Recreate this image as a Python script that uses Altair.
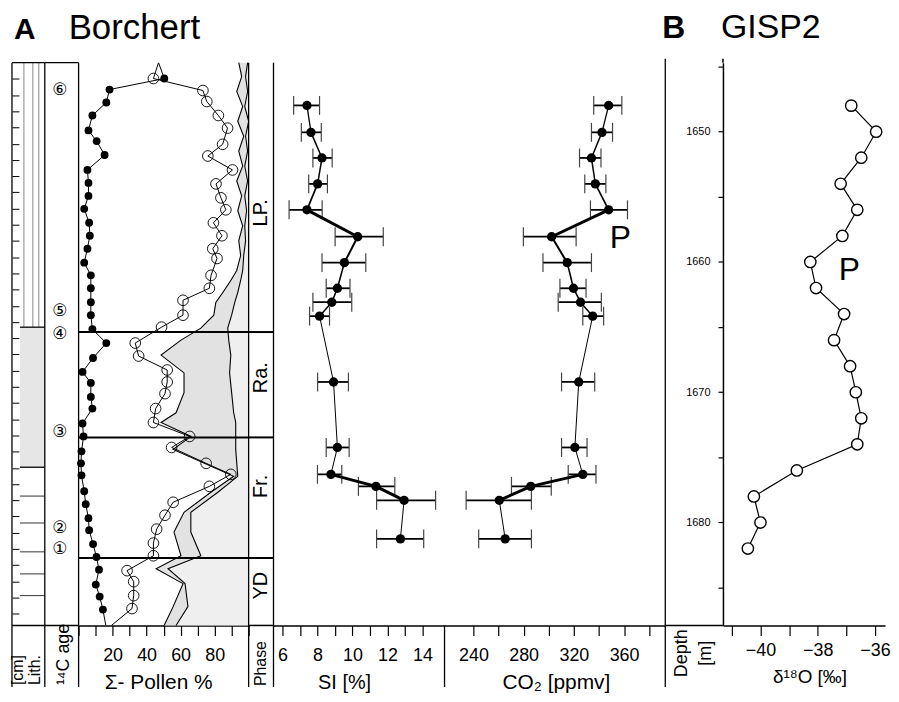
import altair as alt
import pandas as pd

FONT = "Liberation Sans"

# ---------------- Borchert pollen diagram (depth in cm) ----------------
filled_depth = [0.0, 4.9, 8.3, 12.3, 16.3, 20.9, 24.2, 28.5, 33.1, 37.1, 41.1, 45.1, 49.4, 53.4, 57.4,
                61.7, 65.6, 69.6, 73.9, 77.9, 82.2, 86.5, 91.1, 95.4, 98.8, 103.1, 106.7, 111.3, 115.3,
                119.9, 123.6, 127.3, 132.2, 136.2, 140.5, 144.2, 148.5, 152.5, 156.4, 161.0, 164.7, 168.7, 173.6]
filled_val = [47.0, 50.4, 18.2, 16.3, 8.1, 5.8, 10.6, 15.3, 5.2, 5.8, 5.8, 3.3, 6.2, 6.6, 5.2,
              3.3, 7.2, 7.2, 7.2, 7.2, 8.1, 16.3, 8.5, 2.3, 7.2, 7.2, 8.1, 2.3, 2.9,
              1.7, 1.4, 1.7, 3.3, 4.2, 5.8, 6.2, 8.5, 10.5, 12.0, 10.1, 12.4, 14.3, 16.0]
open_depth = [0.0, 4.9, 8.6, 12.0, 16.3, 20.2, 25.2, 28.8, 33.1, 37.4, 41.7, 45.4, 49.4, 53.4, 57.4,
              60.4, 65.6, 69.6, 73.3, 77.9, 81.6, 86.5, 90.5, 94.8, 98.5, 102.1, 106.7, 111.0, 115.3,
              118.7, 123.6, 127.0, 130.7, 135.6, 139.6, 143.9, 148.2, 152.1, 156.7, 160.1, 164.4, 168.4, 173.6]
open_val = [47.0, 44.0, 73.1, 75.4, 82.2, 87.6, 84.7, 76.0, 90.5, 80.8, 83.7, 86.6, 79.3, 84.3, 78.9,
            81.4, 77.9, 76.9, 61.4, 61.4, 48.8, 33.3, 35.3, 52.1, 52.1, 50.8, 45.3, 44.0, 65.3,
            54.7, 75.0, 89.5, 76.9, 55.6, 50.8, 45.9, 44.0, 44.0, 28.5, 32.4, 32.4, 31.4, 19.3]
curve_depth = [0, 4.3, 8.9, 13.5, 18.1, 22.7, 27.3, 31.9, 36.5, 41.1, 45.7, 50.3, 54.9, 59.5, 64.1,
               67.2, 70.9, 74.0, 77.9, 81.9, 85.6, 90.2, 95.7, 101.8, 108.0, 111.0, 115.3, 119.3,
               127.6, 132.5, 138.7, 144.8, 152.1, 156.1, 160.7, 167.8, 173.6]
curve_inner = [94.2, 95.9, 93.0, 96.5, 93.6, 97.1, 94.2, 96.5, 93.0, 95.9, 93.6, 96.5, 94.2, 95.3, 93.0,
               89.5, 84.8, 80.7, 79.5, 71.9, 60.2, 48.5, 62.0, 62.0, 57.3, 48.5, 66.1, 55.6,
               91.2, 77.8, 62.0, 56.1, 60.2, 45.6, 61.4, 55.6, 50.3]
curve_outer = [99.4, 98.2, 99.4, 97.7, 100.0, 98.2, 99.4, 97.7, 99.4, 97.7, 98.8, 97.7, 98.2, 97.1, 96.5,
               95.3, 93.6, 91.8, 90.0, 87.7, 88.3, 89.5, 88.8, 90.0, 91.2, 92.4, 92.4, 92.4,
               93.6, 81.9, 66.0, 66.0, 71.9, 52.6, 62.6, 64.3, 57.3]

phase_bounds = [83.1, 115.6, 152.8]
phase_names = ["LP.", "Ra.", "Fr.", "YD"]
phase_mid = [46.3, 97.2, 130.7, 161.3]
c14_labels = ["⑥", "⑤", "④", "③", "②", "①"]
c14_depth = [8.6, 76.7, 83.6, 113.8, 143.6, 150.0]
lith_top = [0.0, 81.6, 124.8]
lith_bottom = [81.6, 124.8, 173.6]
lith_unit = ["laminated", "hatched", "clay"]
clay_lines = [133.7, 142.0, 150.9, 157.7, 164.4]
ruler_ticks = [5, 10, 15, 20, 25, 30, 35, 40, 45, 50, 55, 60, 65, 70, 75, 80, 85, 90, 95, 100,
               105, 110, 115, 120, 125, 130, 135, 140, 145, 150, 155, 160, 165, 170]

# ---------------- stomatal index and CO2 ----------------
sample_depth = [13.2, 21.5, 29.4, 37.4, 45.4, 53.7, 61.7, 69.6, 73.9, 78.2, 98.5, 118.7, 127.0, 130.7, 135.0, 146.9]
si = [7.40, 7.63, 8.26, 8.01, 7.40, 10.30, 9.54, 9.14, 8.82, 8.12, 8.92, 9.14, 8.77, 11.34, 12.95, 12.74]
si_lo = [6.64, 7.08, 7.74, 7.50, 6.38, 9.01, 8.26, 8.50, 7.74, 7.55, 8.01, 8.50, 8.00, 10.34, 11.38, 11.38]
si_hi = [8.12, 8.22, 8.84, 8.57, 8.27, 11.76, 10.76, 9.86, 9.96, 8.69, 9.77, 9.81, 9.39, 12.42, 14.75, 14.07]
co2 = [347.7, 342.4, 334.0, 337.1, 347.7, 302.3, 314.7, 319.7, 325.3, 335.0, 323.9, 320.8, 327.1, 285.7, 260.6, 265.3]
co2_lo = [335.8, 334.0, 324.5, 328.7, 333.2, 279.8, 295.4, 308.9, 307.5, 327.1, 310.2, 310.2, 315.5, 270.3, 234.2, 244.2]
co2_hi = [358.2, 350.8, 341.6, 345.5, 362.7, 321.8, 334.0, 329.7, 341.9, 343.7, 336.6, 330.5, 337.6, 302.0, 286.2, 286.2]
segment_width = [1.3, 1.5, 1.5, 1.7, 3.0, 2.0, 1.6, 1.6, 1.5, 1.0, 1.0, 1.0, 3.0, 3.0, 1.0]

# ---------------- GISP2 ----------------
gisp_depth = [1648, 1650, 1652, 1654, 1656, 1658, 1660, 1662, 1664, 1666, 1668, 1670, 1672, 1674, 1676, 1678, 1680, 1682]
d18o = [-36.83, -35.96, -36.48, -37.20, -36.62, -37.14, -38.26, -38.06, -37.08, -37.43, -36.87, -36.67,
        -36.48, -36.62, -38.73, -40.23, -40.00, -40.44]
depth_ticks = [1645, 1650, 1655, 1660, 1665, 1670, 1675, 1680, 1685]

# ---------------- layout ----------------
H = 566
BOT = 62
W1, W2, W3, W4, W5, W6, W7, W8 = 33, 34, 171, 25, 172, 222, 58, 163

yA = alt.Scale(domain=[0, 173.6], reverse=True, nice=False, zero=False)
yB = alt.Scale(domain=[1644.7, 1687.9], reverse=True, nice=False, zero=False)
xP = alt.Scale(domain=[0, 100], nice=False, zero=False)
xS = alt.Scale(domain=[5.489, 15.26], nice=False, zero=False)
xC = alt.Scale(domain=[217.0, 392.8], nice=False, zero=False)
xO = alt.Scale(domain=[-41.31, -35.65], nice=False, zero=False)

one = pd.DataFrame({"k": [0]})


def vline(x, y0, y1, w=1.3):
    return alt.Chart(one).mark_rule(color="black", strokeWidth=w).encode(
        x=alt.value(x), y=alt.value(y0), y2=alt.value(y1))


def hline(y, x0, x1, w=1.5):
    return alt.Chart(one).mark_rule(color="black", strokeWidth=w).encode(
        y=alt.value(y), x=alt.value(x0), x2=alt.value(x1))


def label(text, x, y, size, angle=0, align="center", baseline="middle", weight="normal", font=FONT):
    return alt.Chart(one).mark_text(text=text, fontSize=size, font=font, angle=angle, align=align,
                                    baseline=baseline, fontWeight=weight, color="black").encode(
        x=alt.value(x), y=alt.value(y))


# ---- panel 1: lithology ----
lith_axis = alt.Axis(orient="left", offset=-7, values=ruler_ticks, labels=False, domain=False,
                     tickSize=7, tickWidth=1, tickColor="black", grid=False, title=None)
lith = pd.DataFrame({"top": lith_top, "bottom": lith_bottom, "unit": lith_unit})
clay = pd.DataFrame({"d": clay_lines})
bounds_df = pd.DataFrame({"d": lith_top[1:]})

p1 = alt.layer(
    alt.Chart(lith).transform_filter("datum.unit == 'hatched'").mark_rect(color="#e6e6e6").encode(
        y=alt.Y("top:Q", scale=yA, axis=lith_axis), y2="bottom:Q", x=alt.value(8), x2=alt.value(W1)),
    *[alt.Chart(lith).transform_filter("datum.unit == 'laminated'").mark_rule(color="#666", strokeWidth=0.8).encode(
        y=alt.Y("top:Q", scale=yA, axis=lith_axis), y2="bottom:Q", x=alt.value(xx)) for xx in (12, 21, 27)],
    alt.Chart(clay).mark_rule(color="black", strokeWidth=0.8).encode(
        y=alt.Y("d:Q", scale=yA, axis=lith_axis), x=alt.value(8), x2=alt.value(W1)),
    alt.Chart(bounds_df).mark_rule(color="black", strokeWidth=1.3).encode(
        y=alt.Y("d:Q", scale=yA, axis=lith_axis), x=alt.value(8), x2=alt.value(W1)),
    vline(0, 0, H + BOT), vline(W1, 0, H + BOT), hline(0, 0, W1, 1.3), hline(H, 0, W1),
    label("[cm]", 6, H + 60, 16, angle=270, align="left"),
    label("Lith.", 23, H + 60, 16, angle=270, align="left"),
    label("A", 2, -24, 30, align="left", baseline="alphabetic", weight="bold"),
).properties(width=W1, height=H)

# ---- panel 2: 14C ages ----
c14 = pd.DataFrame({"d": c14_depth, "t": c14_labels})
p2 = alt.layer(
    alt.Chart(c14).mark_text(fontSize=17, font="DejaVu Sans", color="black").encode(
        y=alt.Y("d:Q", scale=yA, axis=None), x=alt.value(15), text="t:N"),
    vline(W2, 0, H + BOT), hline(0, 0, W2, 1.3), hline(H, 0, W2),
    label("¹⁴C age", 19, H + 60, 18, angle=270, align="left"),
    label("Borchert", 24, -24, 35, align="left", baseline="alphabetic"),
).properties(width=W2, height=H)

# ---- panel 3: pollen ----
pollen_axis = alt.Axis(values=[0, 10, 20, 30, 40, 50, 60, 70, 80, 90, 100],
                       labelExpr="(datum.value == 20 || datum.value == 40 || datum.value == 60 || datum.value == 80) ? datum.label : ''",
                       title="Σ- Pollen %", titleX=80, titleFontSize=21)
curves = pd.DataFrame({"d": curve_depth, "c1": curve_inner, "c2": curve_outer,
                       "edge": [100.0] * len(curve_depth)})
filled = pd.DataFrame({"d": filled_depth, "v": filled_val})
opened = pd.DataFrame({"d": open_depth, "v": open_val})
phase_df = pd.DataFrame({"d": phase_bounds})
yAn = alt.Y("d:Q", scale=yA, axis=None)

p3 = alt.layer(
    alt.Chart(curves).mark_area(orient="horizontal", color="#e2e2e2").encode(
        y=yAn, x=alt.X("c1:Q", scale=xP, axis=pollen_axis), x2="c2:Q"),
    alt.Chart(curves).mark_area(orient="horizontal", color="#efefef").encode(
        y=yAn, x=alt.X("c2:Q", scale=xP, axis=pollen_axis), x2="edge:Q"),
    alt.Chart(curves).mark_line(color="black", strokeWidth=1.1).encode(
        y=yAn, x=alt.X("c1:Q", scale=xP, axis=pollen_axis), order="d:Q"),
    alt.Chart(curves).mark_line(color="black", strokeWidth=1.1).encode(
        y=yAn, x=alt.X("c2:Q", scale=xP, axis=pollen_axis), order="d:Q"),
    alt.Chart(filled).mark_line(color="black", strokeWidth=1, clip=True).encode(
        y=yAn, x=alt.X("v:Q", scale=xP, axis=pollen_axis), order="d:Q"),
    alt.Chart(opened).mark_line(color="black", strokeWidth=1, clip=True).encode(
        y=yAn, x=alt.X("v:Q", scale=xP, axis=pollen_axis), order="d:Q"),
    alt.Chart(filled.iloc[1:-1]).mark_point(filled=True, color="black", size=62, opacity=1).encode(
        y=yAn, x=alt.X("v:Q", scale=xP, axis=pollen_axis)),
    alt.Chart(opened.iloc[1:-1]).mark_point(filled=False, color="black", size=115, strokeWidth=0.9, opacity=1).encode(
        y=yAn, x=alt.X("v:Q", scale=xP, axis=pollen_axis)),
    alt.Chart(phase_df).mark_rule(color="black", strokeWidth=2).encode(
        y=yAn, x=alt.value(0), x2=alt.value(W3)),
).properties(width=W3, height=H)

# ---- panel 4: phases ----
phases = pd.DataFrame({"d": phase_mid, "t": phase_names})
p4 = alt.layer(
    alt.Chart(phase_df).mark_rule(color="black", strokeWidth=2).encode(
        y=yAn, x=alt.value(0), x2=alt.value(W4)),
    alt.Chart(phases).mark_text(fontSize=20, font=FONT, angle=270, color="black").encode(
        y=yAn, x=alt.value(12), text="t:N"),
    vline(0, 0, H + BOT), vline(W4, 0, H + BOT), hline(H, 0, W4),
    label("Phase", 12, H + 61, 16, angle=270, align="left"),
).properties(width=W4, height=H)

# ---- panels 5/6: SI and CO2 ----
samples = pd.DataFrame({"d": sample_depth, "si": si, "si_lo": si_lo, "si_hi": si_hi,
                        "co2": co2, "co2_lo": co2_lo, "co2_hi": co2_hi})
segs = pd.DataFrame({"d": sample_depth[:-1], "d2": sample_depth[1:],
                     "si": si[:-1], "si2": si[1:], "co2": co2[:-1], "co22": co2[1:],
                     "w": segment_width})

si_axis = alt.Axis(values=[6, 7, 8, 9, 10, 11, 12, 13, 14],
                   labelExpr="datum.value % 2 == 0 ? datum.label : ''", title="SI [%]", titleX=71)
co2_axis = alt.Axis(values=[240, 260, 280, 300, 320, 340, 360, 380],
                    labelExpr="datum.value % 40 == 0 ? datum.label : ''", title="CO₂ [ppmv]", titleX=112,
                    titleFontSize=21)


def proxy_panel(field, scale, axis, width, extra):
    xf = alt.X(f"{field}:Q", scale=scale, axis=axis)
    return alt.layer(
        alt.Chart(samples).mark_rule(color="black", strokeWidth=1.8).encode(
            y=yAn, x=alt.X(f"{field}_lo:Q", scale=scale, axis=axis), x2=f"{field}_hi:Q"),
        alt.Chart(samples).mark_tick(orient="vertical", size=19, thickness=1.2, color="#444", opacity=1).encode(
            y=yAn, x=alt.X(f"{field}_lo:Q", scale=scale, axis=axis)),
        alt.Chart(samples).mark_tick(orient="vertical", size=19, thickness=1.2, color="#444", opacity=1).encode(
            y=yAn, x=alt.X(f"{field}_hi:Q", scale=scale, axis=axis)),
        alt.Chart(segs).mark_rule(color="black").encode(
            y=yAn, y2="d2:Q", x=xf, x2=f"{field}2:Q" if field == "si" else "co22:Q",
            strokeWidth=alt.StrokeWidth("w:Q", scale=None)),
        alt.Chart(samples).mark_point(filled=True, color="black", size=88, opacity=1).encode(y=yAn, x=xf),
        *extra,
    ).properties(width=width, height=H)


p5 = proxy_panel("si", xS, si_axis, W5, [])
ptext = pd.DataFrame({"v": [357.0], "d": [54.1], "t": ["P"]})
p6 = proxy_panel("co2", xC, co2_axis, W6, [
    alt.Chart(ptext).mark_text(fontSize=32, font=FONT, color="black").encode(
        y=yAn, x=alt.X("v:Q", scale=xC, axis=co2_axis), text="t:N"),
    vline(0, H, H + BOT),
])

# ---- panel 7: depth column ----
p7 = alt.layer(
    vline(0, -4, H + BOT), hline(H, 0, W7),
    label("Depth", 17, H + 28, 18, angle=270),
    label("[m]", 41, H + 28, 18, angle=270),
    label("B", -3, -25, 32, align="left", baseline="alphabetic", weight="bold"),
).properties(width=W7, height=H)

# ---- panel 8: GISP2 d18O ----
gisp = pd.DataFrame({"z": gisp_depth, "o": d18o})
depth_axis = alt.Axis(values=depth_ticks, labelExpr="datum.value % 10 == 0 ? datum.label : ''",
                      format="d", tickSize=5, labelFontSize=11, labelPadding=8, title=None,
                      labelBaseline="middle")
o_axis = alt.Axis(values=[-41, -40, -39, -38, -37, -36], labelExpr="datum.value % 2 == 0 ? datum.label : ''",
                  title="δ¹⁸O [‰]", titleX=87, labelPadding=20, titleY=57, titleFontSize=19)
yBz = alt.Y("z:Q", scale=yB, axis=depth_axis)
gp = pd.DataFrame({"o": [-36.9], "z": [1660.6], "t": ["P"]})
p8 = alt.layer(
    alt.Chart(gisp).mark_line(color="black", strokeWidth=1.2).encode(
        y=yBz, x=alt.X("o:Q", scale=xO, axis=o_axis), order="z:Q"),
    alt.Chart(gisp).mark_point(filled=True, fill="white", stroke="black", strokeWidth=1.4, size=130, opacity=1).encode(
        y=yBz, x=alt.X("o:Q", scale=xO, axis=o_axis)),
    alt.Chart(gp).mark_text(fontSize=32, font=FONT, color="black").encode(
        y=yBz, x=alt.X("o:Q", scale=xO, axis=o_axis), text="t:N"),
    vline(0, -4, 0, 1.5),
    label("GISP2", -2, -25, 34, align="left", baseline="alphabetic"),
).properties(width=W8, height=H)

chart = alt.hconcat(p1, p2, p3, p4, p5, p6, p7, p8, spacing=0, bounds="flush").properties(
    padding={"left": 2, "top": 1, "right": 0, "bottom": 0}
).configure_view(stroke=None).configure_axis(
    labelFont=FONT, titleFont=FONT, labelColor="black", titleColor="black",
    domainColor="black", tickColor="black", domainWidth=1.5, tickWidth=1.2, tickSize=10,
    labelFontSize=18, titleFontSize=20, titleFontWeight="normal", labelBaseline="alphabetic",
    labelPadding=25, titleBaseline="alphabetic", titleY=63, grid=False, labelOverlap=False
)

chart.save("out.html", embed_options={"renderer": "svg", "actions": False})
